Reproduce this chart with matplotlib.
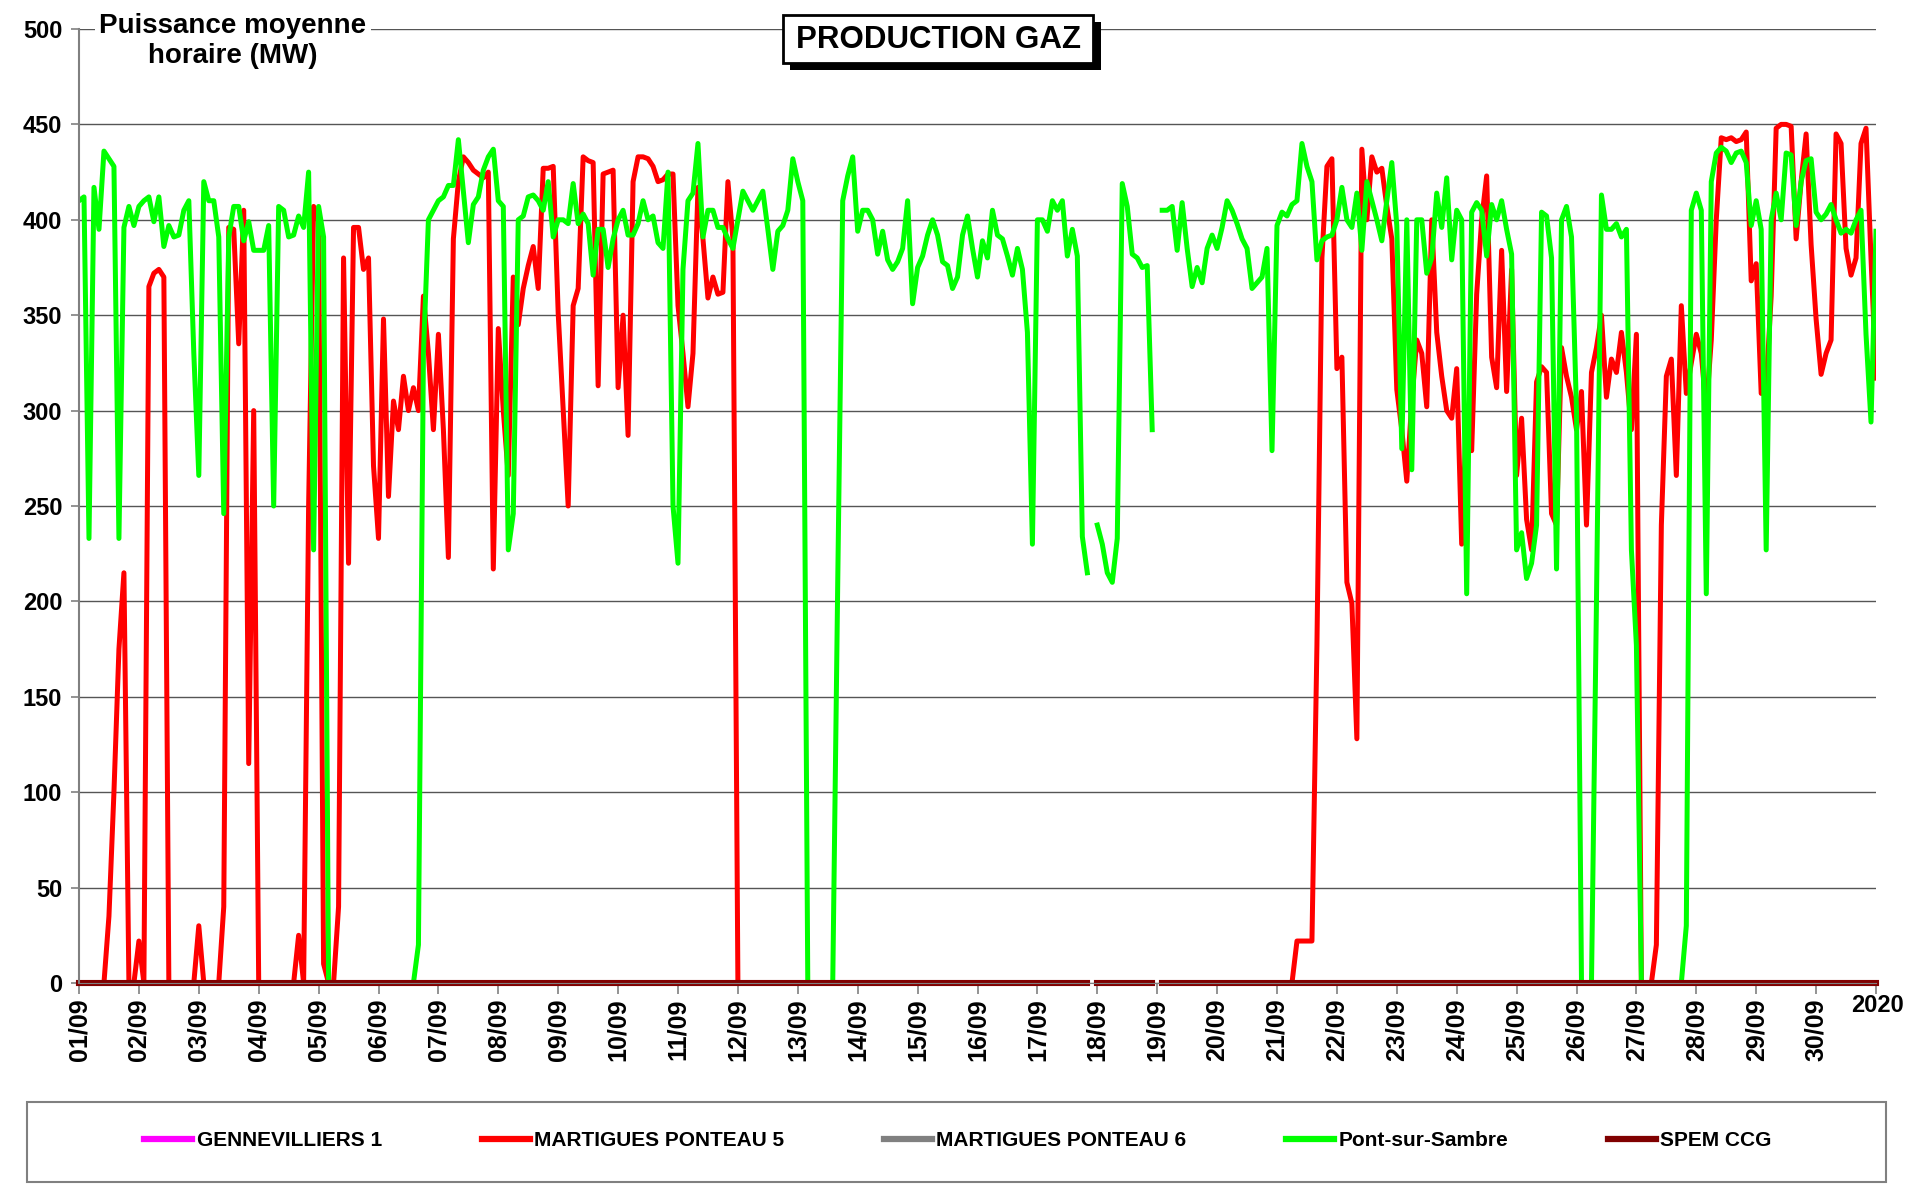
import numpy as np
import matplotlib
matplotlib.use("Agg")
import matplotlib.pyplot as plt
from matplotlib.patches import Rectangle
from matplotlib.lines import Line2D
from matplotlib import font_manager

nan = np.nan

# puissance moyenne (MW), one value every 2 h (00h, 02h ... 22h) for each day of september 2020
pont_sur_sambre = [
    410, 412, 233, 417, 395, 436, 432, 428, 233, 396, 407, 397,  # 01/09
    407, 410, 412, 399, 412, 386, 397, 391, 392, 405, 410, 330,  # 02/09
    266, 420, 410, 410, 391, 246, 391, 407, 407, 389, 399, 384,  # 03/09
    384, 384, 397, 250, 407, 405, 391, 392, 402, 396, 425, 227,  # 04/09
    407, 391, 0, 0, 0, 0, 0, 0, 0, 0, 0, 0,                      # 05/09
    0, 0, 0, 0, 0, 0, 0, 0, 20, 330, 400, 405,                   # 06/09
    410, 412, 418, 418, 442, 415, 388, 408, 412, 426, 433, 437,  # 07/09
    410, 407, 227, 246, 400, 402, 412, 413, 410, 405, 420, 391,  # 08/09
    400, 400, 398, 419, 398, 403, 398, 371, 395, 395, 375, 390,  # 09/09
    400, 405, 392, 392, 398, 410, 400, 402, 388, 385, 425, 250,  # 10/09
    220, 374, 410, 414, 440, 391, 405, 405, 396, 396, 390, 385,  # 11/09
    400, 415, 410, 405, 410, 415, 395, 374, 394, 397, 405, 432,  # 12/09
    420, 410, 0, 0, 0, 0, 0, 0, 210, 410, 423, 433,              # 13/09
    394, 405, 405, 400, 382, 394, 379, 374, 378, 385, 410, 356,  # 14/09
    375, 381, 392, 400, 392, 378, 376, 364, 370, 392, 402, 385,  # 15/09
    370, 389, 380, 405, 392, 390, 381, 371, 385, 374, 341, 230,  # 16/09
    400, 400, 394, 410, 405, 410, 381, 395, 381, 234, 215, nan,  # 17/09
    240, 230, 215, 210, 233, 419, 407, 382, 380, 375, 376, 290,  # 18/09
    nan, 405, 405, 407, 384, 409, 385, 365, 375, 367, 385, 392,  # 19/09
    385, 396, 410, 405, 398, 390, 385, 364, 367, 370, 385, 279,  # 20/09
    397, 404, 402, 408, 410, 440, 428, 420, 379, 389, 391, 392,  # 21/09
    400, 417, 400, 396, 414, 384, 420, 410, 400, 389, 410, 430,  # 22/09
    397, 280, 400, 269, 400, 400, 372, 380, 414, 396, 422, 379,  # 23/09
    405, 400, 204, 404, 409, 405, 381, 408, 400, 410, 395, 382,  # 24/09
    227, 236, 212, 220, 240, 404, 402, 380, 217, 400, 407, 391,  # 25/09
    300, 0, 0, 0, 200, 413, 395, 395, 398, 391, 395, 227,        # 26/09
    177, 0, 0, 0, 0, 0, 0, 0, 0, 0, 30, 405,                     # 27/09
    414, 405, 204, 420, 435, 438, 436, 430, 435, 436, 430, 397,  # 28/09
    410, 395, 227, 400, 414, 400, 435, 434, 397, 420, 431, 432,  # 29/09
    404, 400, 403, 408, 400, 393, 395, 393, 400, 405, 340, 294,  # 30/09
    394,
]

martigues_p5 = [
    0, 0, 0, 0, 0, 0, 35, 100, 175, 215, 0, 0,                   # 01/09
    22, 0, 365, 372, 374, 370, 0, 0, 0, 0, 0, 0,                 # 02/09
    30, 0, 0, 0, 0, 40, 396, 395, 335, 405, 115, 300,            # 03/09
    0, 0, 0, 0, 0, 0, 0, 0, 25, 0, 250, 407,                     # 04/09
    400, 10, 0, 0, 40, 380, 220, 396, 396, 374, 380, 271,        # 05/09
    233, 348, 255, 305, 290, 318, 300, 312, 300, 360, 330, 290,  # 06/09
    340, 290, 223, 390, 420, 433, 430, 426, 424, 422, 425, 217,  # 07/09
    343, 300, 266, 370, 345, 364, 376, 386, 364, 427, 427, 428,  # 08/09
    351, 300, 250, 355, 364, 433, 431, 430, 313, 424, 425, 426,  # 09/09
    312, 350, 287, 420, 433, 433, 432, 428, 420, 421, 424, 424,  # 10/09
    355, 330, 302, 330, 417, 390, 359, 370, 361, 362, 420, 390,  # 11/09
    0, 0, 0, 0, 0, 0, 0, 0, 0, 0, 0, 0,                          # 12/09
    0, 0, 0, 0, 0, 0, 0, 0, 0, 0, 0, 0,                          # 13/09
    0, 0, 0, 0, 0, 0, 0, 0, 0, 0, 0, 0,                          # 14/09
    0, 0, 0, 0, 0, 0, 0, 0, 0, 0, 0, 0,                          # 15/09
    0, 0, 0, 0, 0, 0, 0, 0, 0, 0, 0, 0,                          # 16/09
    0, 0, 0, 0, 0, 0, 0, 0, 0, 0, 0, nan,                        # 17/09
    0, 0, 0, 0, 0, 0, 0, 0, 0, 0, 0, 0,                          # 18/09
    nan, 0, 0, 0, 0, 0, 0, 0, 0, 0, 0, 0,                        # 19/09
    0, 0, 0, 0, 0, 0, 0, 0, 0, 0, 0, 0,                          # 20/09
    0, 0, 0, 0, 22, 22, 22, 22, 177, 380, 428, 432,              # 21/09
    322, 328, 210, 199, 128, 437, 400, 433, 425, 427, 407, 390,  # 22/09
    311, 290, 263, 305, 337, 330, 302, 400, 341, 318, 300, 296,  # 23/09
    322, 230, 300, 279, 361, 400, 423, 328, 312, 384, 310, 374,  # 24/09
    266, 296, 243, 227, 315, 323, 320, 246, 240, 333, 318, 307,  # 25/09
    290, 310, 240, 320, 333, 350, 307, 327, 320, 341, 320, 290,  # 26/09
    340, 0, 0, 0, 20, 240, 318, 327, 266, 355, 309, 325,         # 27/09
    340, 330, 300, 337, 400, 443, 442, 443, 441, 442, 446, 368,  # 28/09
    377, 309, 312, 360, 448, 450, 450, 449, 390, 420, 445, 387,  # 29/09
    348, 319, 330, 337, 445, 440, 385, 371, 380, 440, 448, 380,  # 30/09
    317,
]

# units that did not run this month (0 MW), with the same missing hours
missing_slots = [203, 216]
n = len(pont_sur_sambre)
zero_unit = np.zeros(n)
zero_unit[missing_slots] = nan
gennevilliers = zero_unit.copy()
martigues_p6 = zero_unit.copy()
spem_ccg = zero_unit.copy()

day_labels = ["%02d/09" % d for d in range(1, 31)]
hours = np.arange(n) * 2

series = [
    ("GENNEVILLIERS 1", gennevilliers, "#ff00ff"),
    ("MARTIGUES PONTEAU 5", martigues_p5, "#ff0000"),
    ("MARTIGUES PONTEAU 6", martigues_p6, "#808080"),
    ("Pont-sur-Sambre", pont_sur_sambre, "#00ff00"),
    ("SPEM CCG", spem_ccg, "#800000"),
]

names = {f.name for f in font_manager.fontManager.ttflist}
narrow = "Liberation Sans Narrow" if "Liberation Sans Narrow" in names else "Liberation Sans"
leg_size = 17 if narrow == "Liberation Sans Narrow" else 15
plt.rcParams["font.family"] = ["Liberation Sans", "DejaVu Sans"]

W, H = 1910, 1184
fig = plt.figure(figsize=(W / 100, H / 100), dpi=100)
fx = lambda px: px / W
fy = lambda py: 1 - py / H

ax = fig.add_axes([fx(79), fy(983), (1876 - 79) / W, (983 - 29) / H])

for name, vals, col in series:
    zero = name != "MARTIGUES PONTEAU 5" and name != "Pont-sur-Sambre"
    ax.plot(hours, vals, color=col, lw=4.4 if name == "SPEM CCG" else 3.6,
            solid_joinstyle="round", clip_on=not zero)

ax.set_xlim(0, 720)
ax.set_ylim(0, 500)
ax.set_yticks(np.arange(0, 501, 50))
ax.set_xticks(np.arange(0, 721, 24))
ax.set_xticklabels(day_labels + [""], rotation=90, fontsize=18, fontweight="bold")
ax.set_yticklabels([str(v) for v in range(0, 501, 50)], fontsize=17, fontweight="bold")
ax.tick_params(axis="x", length=8, width=1.2, color="#808080", pad=3)
ax.tick_params(axis="y", length=6, width=1.2, color="#808080", pad=6)
ax.yaxis.grid(True, color="#555555", lw=1)
ax.set_axisbelow(True)
for s in ["top", "right"]:
    ax.spines[s].set_visible(False)
ax.spines["left"].set_color("#808080")
ax.spines["left"].set_linewidth(1.5)
ax.spines["bottom"].set_color("#808080")

# y axis title
fig.text(fx(233), fy(41), "Puissance moyenne\nhoraire (MW)", ha="center", va="center",
         fontsize=20, fontweight="bold", linespacing=1.2,
         bbox=dict(facecolor="white", edgecolor="none", pad=3))

# framed title with shadow
fig.add_artist(Rectangle((fx(790), fy(70)), 311 / W, 48 / H, transform=fig.transFigure,
                         facecolor="black", edgecolor="none"))
fig.add_artist(Rectangle((fx(783), fy(63)), 310 / W, 48 / H, transform=fig.transFigure,
                         facecolor="white", edgecolor="black", lw=2))
fig.text(fx(938), fy(40), "PRODUCTION GAZ", ha="center", va="center",
         fontsize=22.5, fontweight="bold", zorder=5)

fig.text(fx(1877), fy(1005), "2020", ha="center", va="center", fontsize=17,
         fontweight="bold", family=narrow)

# legend
fig.add_artist(Rectangle((fx(27), fy(1182)), (1886 - 27) / W, 80 / H, transform=fig.transFigure,
                         facecolor="none", edgecolor="#808080", lw=1.5))
handles = [Line2D([], [], color=c, lw=4.5) for _, _, c in series]
fig.legend(handles, [s[0] for s in series], loc="center", bbox_to_anchor=(fx(958), fy(1141)),
           ncol=5, frameon=False, handlelength=2.3, handletextpad=0.2, columnspacing=4.8,
           prop=dict(family=narrow, weight="bold", size=leg_size))

fig.savefig("out.png", dpi=100)
